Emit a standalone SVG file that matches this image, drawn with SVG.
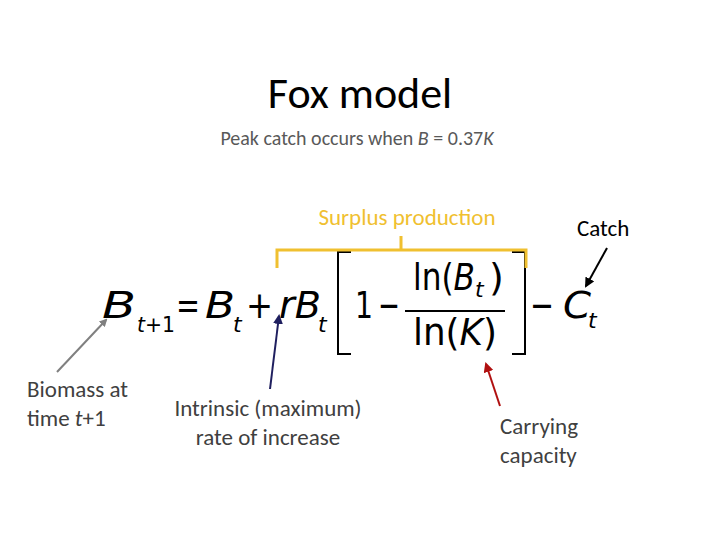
<svg xmlns="http://www.w3.org/2000/svg" width="720" height="540" viewBox="0 0 720 540">
<defs>
<style>
text{font-family:Carlito,"Liberation Sans",Calibri,sans-serif}
.eq{font-family:"DejaVu Sans","Liberation Sans",sans-serif;font-size:38px;fill:#000}
.sub{font-family:"DejaVu Sans","Liberation Sans",sans-serif;font-size:22px;fill:#000}
.lab{font-size:23px;fill:#404040}
</style>
<marker id="ag" markerWidth="8" markerHeight="8" refX="6" refY="4" orient="auto" markerUnits="userSpaceOnUse"><path d="M0,0L8,4L0,8z" fill="#808080"/></marker>
<marker id="ab" markerWidth="10" markerHeight="10" refX="8" refY="5" orient="auto" markerUnits="userSpaceOnUse"><path d="M0,0L10,5L0,10z" fill="#1f1f5f"/></marker>
<marker id="ar" markerWidth="10" markerHeight="10" refX="8" refY="5" orient="auto" markerUnits="userSpaceOnUse"><path d="M0,0L10,5L0,10z" fill="#b01010"/></marker>
<marker id="ak" markerWidth="10" markerHeight="10" refX="8" refY="5" orient="auto" markerUnits="userSpaceOnUse"><path d="M0,0L10,5L0,10z" fill="#000"/></marker>
</defs>
<rect width="720" height="540" fill="#fff"/>
<g id="title"><text x="360" y="108" text-anchor="middle" font-size="44" fill="#000">Fox model</text>
<text x="357" y="145" text-anchor="middle" font-size="20" fill="#595959">Peak catch occurs when <tspan font-style="italic">B</tspan> = 0.37<tspan font-style="italic">K</tspan></text></g>
<g id="equation">
<text x="102" y="318" class="eq" font-style="italic" textLength="34" lengthAdjust="spacingAndGlyphs">B</text>
<text x="137" y="332" class="sub" textLength="38" lengthAdjust="spacingAndGlyphs"><tspan font-style="italic">t</tspan>+1</text>
<text x="176" y="318" class="eq" textLength="24" lengthAdjust="spacingAndGlyphs">=</text>
<text x="205" y="318" class="eq" font-style="italic" textLength="30" lengthAdjust="spacingAndGlyphs">B</text>
<text x="233" y="332" class="sub" font-style="italic">t</text>
<text x="246" y="318" class="eq" textLength="27" lengthAdjust="spacingAndGlyphs">+</text>
<text x="279" y="318" class="eq" font-style="italic" textLength="42" lengthAdjust="spacingAndGlyphs">rB</text>
<text x="318" y="332" class="sub" font-style="italic">t</text>
<path d="M351,252H338V354H351M512,252H525V354H512" fill="none" stroke="#000" stroke-width="2"/>
<text x="355" y="318" class="eq" textLength="18" lengthAdjust="spacingAndGlyphs">1</text>
<text x="378" y="318" class="eq" textLength="22" lengthAdjust="spacingAndGlyphs">−</text>
<line x1="405" y1="311" x2="505" y2="311" stroke="#000" stroke-width="2"/>
<text x="413" y="290" class="eq" textLength="62" lengthAdjust="spacingAndGlyphs">ln(<tspan font-style="italic">B</tspan></text>
<text x="475" y="297" class="sub" font-style="italic">t</text>
<text x="489" y="290" class="eq">)</text>
<text x="413" y="345" class="eq" textLength="84" lengthAdjust="spacingAndGlyphs">ln(<tspan font-style="italic">K</tspan>)</text>
<text x="530" y="318" class="eq" textLength="24" lengthAdjust="spacingAndGlyphs">−</text>
<text x="563" y="318" class="eq" font-style="italic" textLength="28" lengthAdjust="spacingAndGlyphs">C</text>
<text x="588" y="328" class="sub" font-style="italic">t</text>
</g>
<g id="surplus">
<path d="M277,268V250H526V268M401,250V236" fill="none" stroke="#f0c030" stroke-width="3"/>
<text x="407" y="225" text-anchor="middle" font-size="23" fill="#f0c030">Surplus production</text>
</g>
<g id="labels">
<text x="27" y="397" class="lab">Biomass at</text>
<text x="27" y="426" class="lab">time <tspan font-style="italic">t</tspan>+1</text>
<text x="268" y="416" text-anchor="middle" class="lab">Intrinsic (maximum)</text>
<text x="268" y="445" text-anchor="middle" class="lab">rate of increase</text>
<text x="500" y="434" class="lab">Carrying</text>
<text x="500" y="463" class="lab">capacity</text>
<text x="577" y="236" font-size="23" fill="#000">Catch</text>
</g>
<g id="connectors" fill="none" stroke-width="2">
<line x1="57" y1="372" x2="106" y2="320" stroke="#808080" marker-end="url(#ag)"/>
<line x1="270" y1="389" x2="279" y2="316" stroke="#1f1f5f" marker-end="url(#ab)"/>
<line x1="500" y1="406" x2="486" y2="364" stroke="#b01010" marker-end="url(#ar)"/>
<line x1="607" y1="248" x2="586" y2="286" stroke="#000" marker-end="url(#ak)"/>
</g>
</svg>
